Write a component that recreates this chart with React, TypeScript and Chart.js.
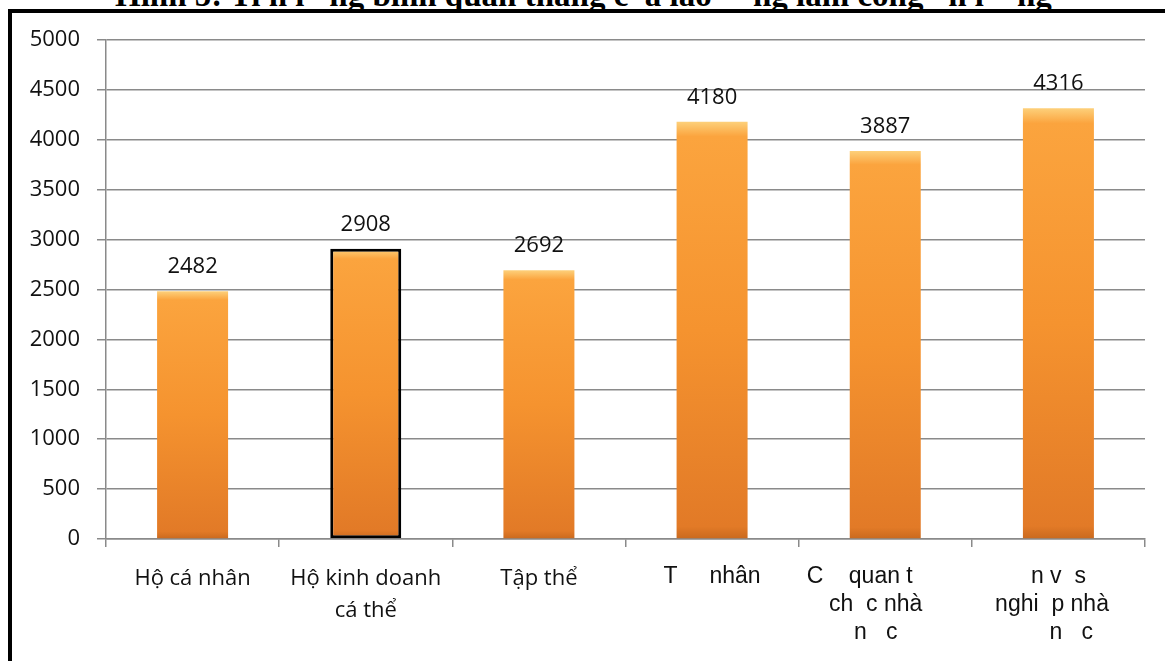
import React, { useEffect, useRef } from "react";
import { Chart, registerables } from "chart.js";

Chart.register(...registerables);

const titleText =
  "Hình 5: Ti n l   ng bình quân tháng c  a lao     ng làm công   n l    ng";

const categories: (string | string[])[] = [
  "Hộ cá nhân",
  ["Hộ kinh doanh", "cá thể"],
  "Tập thể",
  "T     nhân",
  ["C    quan t        ", "ch  c nhà   ", "n   c   "],
  ["n v  s", "nghi  p nhà  ", "    n   c"],
];

const values = [2482, 2908, 2692, 4180, 3887, 4316];

const yMin = 0;
const yMax = 5000;
const yStep = 500;

const highlightIndex = 1;

const valueLabelPlugin = {
  id: "valueLabels",
  afterDatasetsDraw(chart: any) {
    const ctx = chart.ctx;
    const meta = chart.getDatasetMeta(0);
    ctx.save();
    ctx.font = '22px "Open Sans", sans-serif';
    ctx.fillStyle = "#111";
    ctx.textAlign = "center";
    ctx.textBaseline = "alphabetic";
    meta.data.forEach((bar: any, i: number) => {
      ctx.fillText(String(values[i]), bar.x, bar.y - 18);
    });
    ctx.restore();
  },
};

export default function App() {
  const canvasRef = useRef<HTMLCanvasElement | null>(null);

  useEffect(() => {
    const canvas = canvasRef.current;
    if (!canvas) return;
    const chart = new Chart(canvas, {
      type: "bar",
      data: {
        labels: categories,
        datasets: [
          {
            data: values,
            backgroundColor: (c: any) => {
              const ch = c.chart;
              const area = ch.chartArea;
              if (!area || !ch.scales.y) return "#F7952F";
              const yTop = ch.scales.y.getPixelForValue(values[c.dataIndex]);
              const yBot = ch.scales.y.getPixelForValue(0);
              const g = ch.ctx.createLinearGradient(0, yTop, 0, yBot);
              g.addColorStop(0, "#FDD07A");
              g.addColorStop(0.035, "#FBA43E");
              g.addColorStop(0.5, "#F5932F");
              g.addColorStop(0.97, "#E27A27");
              g.addColorStop(1, "#C9691E");
              return g;
            },
            borderColor: (c: any) => (c.dataIndex === highlightIndex ? "#000" : "rgba(0,0,0,0)"),
            borderWidth: (c: any) => (c.dataIndex === highlightIndex ? 3 : 0),
            borderSkipped: false,
            barPercentage: 0.82,
            categoryPercentage: 0.5,
          },
        ],
      },
      options: {
        animation: false,
        responsive: false,
        maintainAspectRatio: false,
        layout: { padding: { left: 0, right: 20, top: 40, bottom: 0 } },
        plugins: {
          legend: { display: false },
          tooltip: { enabled: false },
        },
        scales: {
          x: {
            grid: {
              display: true,
              drawOnChartArea: false,
              drawTicks: true,
              tickLength: 8,
              color: "#8a8a8a",
              lineWidth: 1.5,
              offset: true,
            },
            border: { color: "#8a8a8a", width: 1.5 },
            ticks: {
              color: "#111",
              padding: 16,
              maxRotation: 0,
              autoSkip: false,
              font: (c: any) =>
                c.index < 3
                  ? { family: '"Open Sans", sans-serif', size: 22, lineHeight: 1.45 }
                  : { family: '"Liberation Sans", Arial, sans-serif', size: 23, lineHeight: 1.22 },
            },
            afterFit: (s: any) => {
              s.height = 122;
            },
          },
          y: {
            min: yMin,
            max: yMax,
            grid: {
              color: "#8a8a8a",
              lineWidth: 1.5,
              tickLength: 9,
            },
            border: { color: "#8a8a8a", width: 1.5 },
            ticks: {
              stepSize: yStep,
              color: "#111",
              padding: 17,
              font: { family: '"Open Sans", sans-serif', size: 22 },
              callback: (v: any) => String(v),
            },
            afterFit: (s: any) => {
              s.width = 106;
            },
          },
        },
      },
      plugins: [valueLabelPlugin],
    });
    return () => chart.destroy();
  }, []);

  return (
    <div
      style={{
        position: "absolute",
        left: 0,
        top: 0,
        width: 1165,
        height: 661,
        overflow: "hidden",
        background: "#fff",
      }}
    >
      <div
        style={{
          position: "absolute",
          left: 115,
          top: -21,
          whiteSpace: "pre",
          fontFamily: '"Liberation Serif", "Times New Roman", serif',
          fontWeight: "bold",
          fontSize: 33,
          lineHeight: "33px",
          color: "#000",
        }}
      >
        {titleText}
      </div>
      <div
        style={{
          position: "absolute",
          left: 8,
          top: 9,
          width: 1200,
          height: 700,
          borderTop: "4px solid #000",
          borderLeft: "4px solid #000",
          boxSizing: "border-box",
        }}
      />
      <canvas
        ref={canvasRef}
        width={1165}
        height={661}
        style={{ position: "absolute", left: 0, top: 0, width: 1165, height: 661 }}
      />
    </div>
  );
}
